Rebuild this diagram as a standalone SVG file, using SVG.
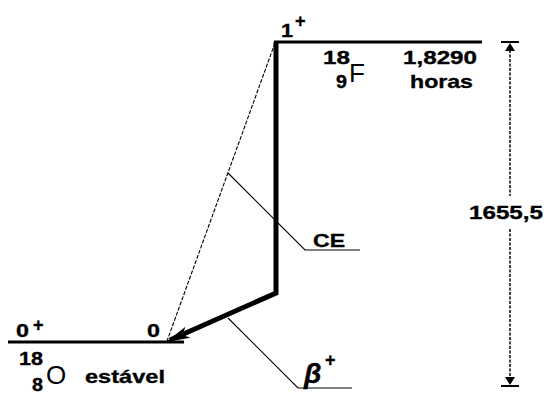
<svg xmlns="http://www.w3.org/2000/svg" width="546" height="394" viewBox="0 0 546 394">
<style>
.b{font-family:"Liberation Sans",Arial,sans-serif;font-weight:bold;font-size:19px;fill:#000;stroke:#000;stroke-width:0.35}
.sup{font-family:"Liberation Sans",Arial,sans-serif;font-weight:bold;font-size:18px;fill:#000;stroke:#000;stroke-width:0.35}
.big{font-family:"Liberation Sans",Arial,sans-serif;font-size:26px;fill:#000}
.beta{font-family:"Liberation Sans",Arial,sans-serif;font-weight:bold;font-style:italic;font-size:28px;fill:#000;stroke:#000;stroke-width:0.4}
.lvl{stroke:#000;stroke-width:3;fill:none}
.thin{stroke:#000;stroke-width:1.2;fill:none}
.dash{stroke:#000;stroke-width:1.1;fill:none;stroke-dasharray:4 1.5}
</style>
<defs>
<marker id="ah" markerUnits="userSpaceOnUse" markerWidth="26" markerHeight="16" refX="24" refY="8" orient="auto">
<path d="M0,2 L24,8 L0,14 L6,8 Z" fill="#000"/>
</marker>
</defs>
<rect width="546" height="394" fill="#fff"/>
<g id="level-F18">
<line class="lvl" x1="274" y1="42" x2="482" y2="42"/>
<text class="b" x="281" y="37" textLength="12" lengthAdjust="spacingAndGlyphs">1</text>
<text class="sup" x="295" y="27">+</text>
<text class="b" x="323" y="64" textLength="27" lengthAdjust="spacingAndGlyphs">18</text>
<text class="b" x="336" y="88" textLength="11" lengthAdjust="spacingAndGlyphs">9</text>
<text class="big" x="349" y="82">F</text>
<text class="b" x="403" y="64" textLength="74" lengthAdjust="spacingAndGlyphs">1,8290</text>
<text class="b" x="410" y="88" textLength="63" lengthAdjust="spacingAndGlyphs">horas</text>
</g>
<g id="level-O18">
<line class="lvl" x1="8" y1="342" x2="184" y2="342"/>
<text class="b" x="16" y="337" textLength="13" lengthAdjust="spacingAndGlyphs">0</text>
<text class="sup" x="33" y="331">+</text>
<text class="b" x="147" y="337" textLength="13" lengthAdjust="spacingAndGlyphs">0</text>
<text class="b" x="19" y="365" textLength="24" lengthAdjust="spacingAndGlyphs">18</text>
<text class="b" x="32" y="391" textLength="11" lengthAdjust="spacingAndGlyphs">8</text>
<text class="big" x="46" y="384">O</text>
<text class="b" x="85" y="383" textLength="80" lengthAdjust="spacingAndGlyphs">estável</text>
</g>
<g id="connectors">
<line class="dash" x1="275" y1="43" x2="167" y2="341"/>
<polyline points="276,42 276,293 170,340" fill="none" stroke="#000" stroke-width="5" stroke-linejoin="miter"/>
<line x1="276" y1="293" x2="166" y2="342" stroke="none" marker-end="url(#ah)"/>
</g>
<g id="label-CE">
<polyline class="thin" points="228,173 305,250 360,250"/>
<text class="b" x="313" y="247" textLength="32" lengthAdjust="spacingAndGlyphs">CE</text>
</g>
<g id="label-beta">
<polyline class="thin" points="228,318 298,388 352,388"/>
<text class="beta" x="304" y="383">β</text>
<text class="sup" x="325" y="366">+</text>
</g>
<g id="dimension">
<line x1="501" y1="42" x2="519" y2="42" stroke="#000" stroke-width="2"/>
<line x1="501" y1="386" x2="519" y2="386" stroke="#000" stroke-width="2"/>
<path d="M510,43 L515,51 L505,51 Z" fill="#000"/>
<path d="M510,385 L515,377 L505,377 Z" fill="#000"/>
<line x1="510" y1="50" x2="510" y2="196" stroke="#000" stroke-width="1.5" stroke-dasharray="3 1.5"/>
<line x1="510" y1="229" x2="510" y2="378" stroke="#000" stroke-width="1.5" stroke-dasharray="3 1.5"/>
<text class="b" x="469" y="219" textLength="74" lengthAdjust="spacingAndGlyphs">1655,5</text>
</g>
</svg>
